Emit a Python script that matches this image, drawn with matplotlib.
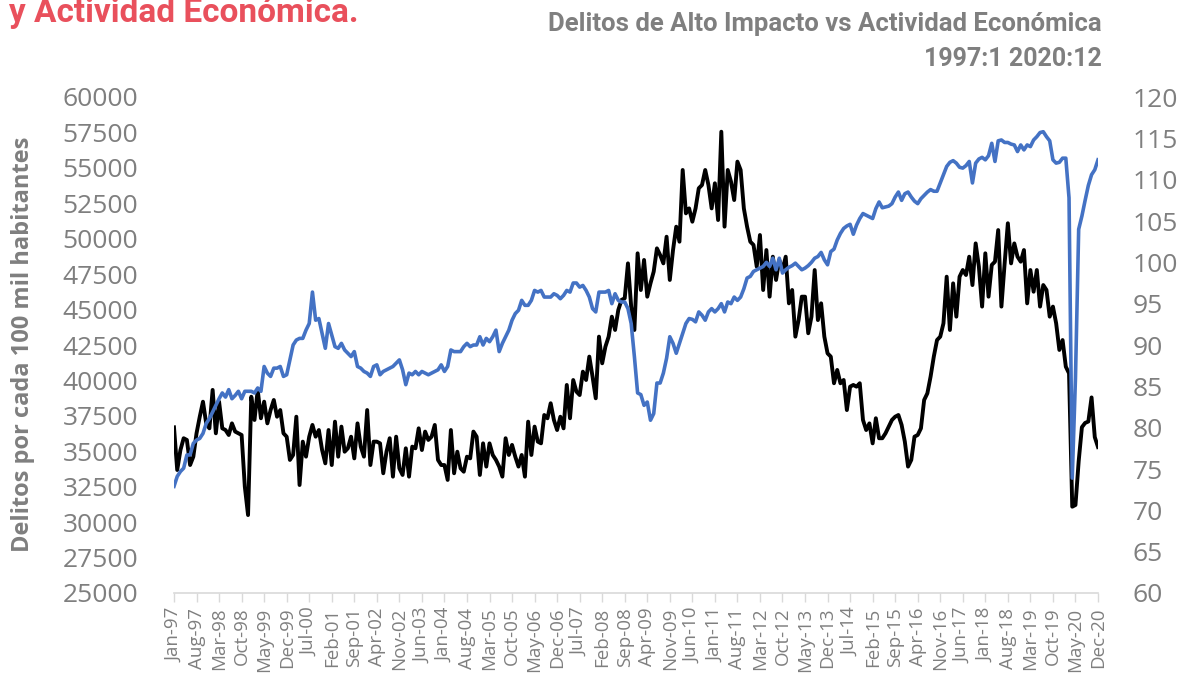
import matplotlib
matplotlib.use("Agg")
import matplotlib.pyplot as plt
from matplotlib import font_manager as fm
import numpy as np
import pandas as pd

# ---------------- data ----------------
start_month = "1997-01"
n_months = 288

delitos = [
    36690, 33680, 35090, 35920, 35800, 34030, 34620, 36270, 37440, 38500, 36970, 36620,
    39330, 36270, 38500, 36620, 36500, 36150, 36970, 36390, 36270, 36150, 32500, 30500,
    38850, 37210, 39330, 37330, 38500, 36970, 37910, 38620, 37440, 37910, 36270, 36030,
    34390, 34740, 37440, 32620, 35680, 34620, 36030, 36860, 36030, 36500, 35090, 34150,
    36500, 34030, 37090, 34620, 36740, 34970, 35210, 36030, 34500, 36970, 35330, 34620,
    37910, 34030, 35680, 35680, 35560, 33450, 34970, 35920, 33210, 36030, 33800, 33330,
    35210, 33210, 35330, 35210, 36620, 35090, 36390, 35800, 36030, 36860, 34390, 34030,
    34030, 32980, 36500, 33450, 34970, 33800, 33560, 34620, 34500, 36390, 36030, 33330,
    35560, 33920, 35560, 34740, 34390, 33920, 33210, 35920, 34740, 35450, 34620, 33920,
    34740, 33210, 37090, 34740, 36740, 35680, 35560, 37560, 37330, 38390, 37210, 36500,
    37440, 36620, 39680, 37330, 40030, 39210, 38970, 40620, 40030, 41680, 40270, 38740,
    43090, 41210, 42380, 43090, 44500, 43560, 44970, 45680, 45800, 48260, 45210, 43560,
    48970, 46380, 48500, 45910, 46850, 47680, 49320, 48850, 48260, 50140, 47090, 49200,
    50850, 49790, 54850, 51790, 52140, 51200, 52140, 53560, 53790, 54850, 53790, 52140,
    53910, 51320, 57550, 50850, 54850, 54030, 52730, 55440, 54850, 52140, 50850, 49790,
    49560, 48030, 50260, 46380, 49200, 45910, 48730, 47090, 48500, 47790, 48730, 45440,
    46380, 43090, 44260, 45910, 45910, 43330, 44500, 47790, 44260, 45440, 43090, 41910,
    41680, 39800, 40740, 39800, 40030, 37910, 39560, 39680, 39560, 39800, 37210, 36500,
    36970, 35560, 37330, 35920, 35920, 36270, 36740, 37210, 37440, 37560, 36860, 35680,
    33920, 34390, 36030, 36150, 36620, 38620, 39090, 40270, 41680, 42850, 43090, 44030,
    47320, 43560, 46850, 44500, 47320, 47790, 47440, 48730, 46730, 49670, 48030, 45210,
    48970, 45910, 48150, 48380, 50610, 45210, 48260, 51090, 48260, 49670, 48730, 48380,
    49200, 45440, 47790, 46260, 47790, 45210, 46730, 46380, 44500, 45210, 44030, 42150,
    42850, 40970, 40500, 31090, 31210, 34300, 36700, 37000, 37100, 38800, 36000, 35300,
]

actividad = [
    72.9, 74.1, 74.7, 75.1, 76.7, 76.7, 78.1, 78.5, 78.7, 79.3, 80.5, 81.1,
    81.9, 82.7, 83.5, 84.2, 83.7, 84.6, 83.5, 83.9, 84.4, 83.5, 84.4, 84.4,
    84.4, 84.2, 84.8, 84.4, 87.4, 86.6, 86.2, 87.2, 87.2, 87.4, 86.2, 86.4,
    88.2, 90.0, 90.6, 90.8, 90.8, 91.8, 92.6, 96.4, 93.0, 93.2, 91.4, 89.6,
    92.6, 91.2, 89.8, 89.6, 90.2, 89.4, 89.0, 88.6, 89.2, 87.4, 87.2, 86.8,
    86.6, 86.2, 87.4, 87.6, 86.4, 86.8, 87.0, 87.2, 87.4, 87.8, 88.2, 87.0,
    85.2, 86.6, 86.4, 86.8, 86.4, 86.8, 86.6, 86.4, 86.6, 86.8, 87.0, 87.6,
    86.8, 87.4, 89.4, 89.2, 89.2, 89.2, 89.8, 90.2, 89.8, 90.0, 90.0, 91.0,
    90.0, 90.8, 90.4, 91.0, 91.8, 89.2, 90.2, 91.0, 91.8, 93.0, 93.8, 94.2,
    95.4, 94.8, 94.8, 95.4, 96.6, 96.4, 96.6, 95.8, 95.8, 95.8, 96.2, 96.0,
    95.6, 96.0, 96.6, 96.4, 97.5, 97.5, 97.0, 97.2, 96.6, 95.8, 94.4, 94.0,
    96.4, 96.4, 96.4, 96.6, 95.0, 96.2, 95.4, 95.2, 95.2, 94.4, 92.6, 88.6,
    84.2, 84.0, 82.7, 83.1, 80.9, 81.7, 85.4, 85.4, 86.6, 88.4, 91.0, 90.2,
    89.0, 90.2, 91.4, 92.6, 93.2, 93.1, 92.8, 94.0, 93.6, 93.0, 94.0, 94.4,
    94.0, 94.4, 95.0, 94.0, 95.2, 95.0, 95.8, 95.4, 95.8, 96.8, 98.1, 98.3,
    98.9, 99.1, 99.3, 99.5, 100.0, 99.5, 100.5, 99.1, 100.5, 98.7, 99.1, 99.4,
    99.6, 99.9, 99.5, 99.1, 99.3, 99.6, 100.0, 100.5, 100.7, 101.2, 100.3, 99.7,
    101.3, 101.6, 102.7, 103.5, 104.1, 104.4, 104.6, 103.4, 104.5, 105.3, 105.9, 105.7,
    105.5, 105.3, 106.5, 107.3, 106.6, 106.7, 106.8, 107.1, 107.9, 108.5, 107.5, 108.3,
    108.5, 107.9, 107.4, 107.1, 107.7, 108.1, 108.5, 108.8, 108.6, 108.6, 109.6, 110.6,
    111.6, 112.1, 112.3, 112.0, 111.5, 111.4, 111.7, 112.2, 109.6, 112.0, 112.5, 112.7,
    112.4, 112.9, 114.4, 112.2, 114.7, 114.8, 114.5, 114.5, 114.3, 114.2, 113.4, 114.2,
    113.6, 114.2, 114.0, 114.8, 115.2, 115.7, 115.8, 115.2, 114.7, 112.4, 112.0, 112.1,
    112.6, 112.6, 107.8, 73.9, 86.0, 104.0, 105.6, 107.5, 109.3, 110.6, 111.2, 112.4,
]

left_ticks = list(range(25000, 60001, 2500))
right_ticks = list(range(60, 121, 5))
tick_step = 7

title_left = "y Actividad Económica."
title_right_1 = "Delitos de Alto Impacto vs Actividad Económica"
title_right_2 = "1997:1 2020:12"
ylabel = "Delitos por cada 100 mil habitantes"

# ---------------- fonts ----------------
def pick(names):
    for n in names:
        try:
            fm.findfont(fm.FontProperties(family=n), fallback_to_default=False)
            return n
        except Exception:
            continue
    return "DejaVu Sans"

body_font = [pick(["Open Sans", "Noto Sans", "DejaVu Sans"]), "DejaVu Sans"]
title_font = [pick(["Roboto", "Open Sans", "DejaVu Sans"]), "DejaVu Sans"]
narrow_name = pick(["Liberation Sans Narrow", "Roboto"])
narrow_font = [narrow_name, "DejaVu Sans"]
red_size = 25.5 if narrow_name == "Liberation Sans Narrow" else 24

GRAY = "#7f7f7f"
AXIS = "#d9d9d9"
RED = "#e9505c"
BLUE = "#4472c4"

dates = pd.date_range(start_month, periods=n_months, freq="MS")
x = np.arange(n_months)
tick_pos = x[::tick_step]
tick_labels = [d.strftime("%b-%y") for d in dates[::tick_step]]

W, H = 1188, 673
fig = plt.figure(figsize=(W / 100, H / 100), dpi=100)
ax = fig.add_axes([174 / W, 1 - 593 / H, (1098 - 174) / W, (593 - 97) / H])
ax2 = ax.twinx()

ax.plot(x, delitos, color="black", lw=2.8, solid_joinstyle="round", zorder=3)
ax2.plot(x, actividad, color=BLUE, lw=2.6, solid_joinstyle="round", zorder=3)

ax.set_xlim(0, n_months - 1)
ax.set_ylim(left_ticks[0], left_ticks[-1])
ax2.set_ylim(right_ticks[0], right_ticks[-1])

ax.set_yticks(left_ticks)
ax.set_yticklabels([str(v) for v in left_ticks])
ax2.set_yticks(right_ticks)
ax2.set_yticklabels([str(v) for v in right_ticks])

ax.set_xticks(tick_pos)
ax.set_xticklabels(tick_labels, rotation=90, va="top", ha="center")

for a in (ax, ax2):
    for s in ("top", "left", "right"):
        a.spines[s].set_visible(False)
ax2.spines["bottom"].set_visible(False)
ax.spines["bottom"].set_color(AXIS)
ax.spines["bottom"].set_linewidth(1.2)

ax.tick_params(axis="y", length=0, pad=26, labelsize=19, labelcolor=GRAY)
ax2.tick_params(axis="y", length=0, pad=25, labelsize=19, labelcolor=GRAY)
ax.tick_params(axis="x", length=6.5, width=1, color=AXIS, pad=4, labelsize=13.5, labelcolor=GRAY)
for lab in ax.get_yticklabels() + ax2.get_yticklabels() + ax.get_xticklabels():
    lab.set_family(body_font)

fig.text(23 / W, 1 - 344 / H, ylabel, rotation=90, ha="center", va="center",
         fontsize=17, fontweight="bold", color=GRAY, family=body_font)

fig.text(9 / W, 1 - 22 / H, title_left, ha="left", va="baseline",
         fontsize=red_size, fontweight="bold", color=RED, family=narrow_font)
fig.text(1102 / W, 1 - 31 / H, title_right_1, ha="right", va="baseline",
         fontsize=18.5, fontweight="bold", color=GRAY, family=title_font)
fig.text(1102 / W, 1 - 66 / H, title_right_2, ha="right", va="baseline",
         fontsize=18, fontweight="bold", color=GRAY, family=title_font)

fig.savefig("out.png", dpi=100, facecolor="white")
